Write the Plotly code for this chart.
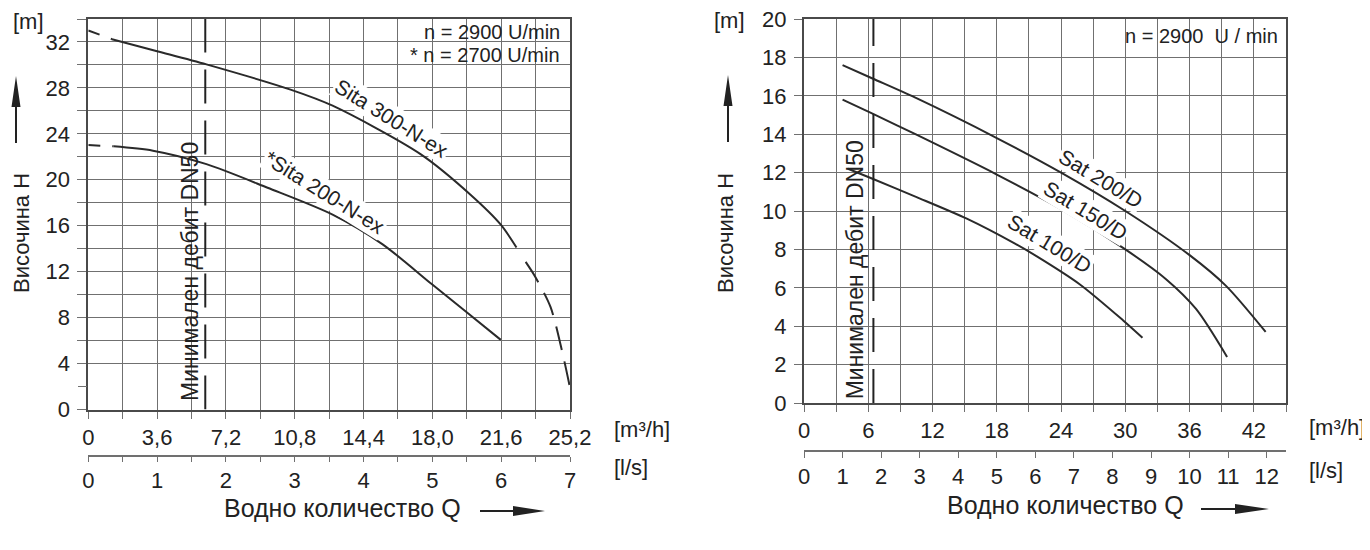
import plotly.graph_objects as go

W, H = 1370, 550
OFF = 8  # page body margin compensation (px)
FONT = "Liberation Sans, Arial, sans-serif"
INK = "#222222"
GRID = "#707070"
AXIS = "#4a4a4a"
CURVE = "#2a2a2a"

# ---------------- left chart: Sita pumps (Q [m3/h], H [m]) ----------------
sita300_q = [1.24, 3.6, 6.18, 10.58, 12.78, 17.38, 19.98, 21.58, 22.4]
sita300_h = [32.24, 31.2, 30.05, 27.85, 26.45, 22.24, 18.73, 16.1, 14.1]
sita300_start_q = [0.0, 1.24]
sita300_start_h = [33.0, 32.24]
sita300_end_q = [22.88, 23.38, 24.18, 24.78, 25.2]
sita300_end_h = [12.85, 11.56, 8.93, 5.12, 1.9]

sita200_q = [1.32, 3.38, 6.18, 9.38, 12.78, 15.38, 17.98, 19.78, 21.58]
sita200_h = [22.91, 22.53, 21.36, 19.31, 16.97, 14.4, 10.9, 8.49, 6.06]
sita200_start_q = [0.0, 1.32]
sita200_start_h = [23.03, 22.91]

left_min_flow = 6.12
left_q_ticks = [0, 3.6, 7.2, 10.8, 14.4, 18.0, 21.6, 25.2]
left_q_labels = ["0", "3,6", "7,2", "10,8", "14,4", "18,0", "21,6", "25,2"]
left_ls_ticks = [0, 1, 2, 3, 4, 5, 6, 7]
left_h_ticks = [0, 4, 8, 12, 16, 20, 24, 28, 32]
left_h_grid = [6, 10, 14, 18, 22, 26, 30, 34]
left_h_stub = [2]

# ---------------- right chart: Sat pumps ----------------
sat200_q = [3.6, 6.4, 10.4, 18.0, 24.0, 30.0, 36.0, 39.4, 43.1]
sat200_h = [17.6, 16.9, 15.9, 13.8, 12.0, 10.0, 7.7, 6.1, 3.7]
sat150_q = [3.6, 6.4, 10.4, 18.0, 24.0, 30.0, 33.8, 36.6, 39.5]
sat150_h = [15.8, 15.07, 14.0, 11.9, 10.1, 8.0, 6.45, 4.9, 2.4]
sat100_q = [4.1, 6.4, 10.4, 15.2, 19.7, 21.7, 25.7, 29.8, 31.6]
sat100_h = [12.2, 11.68, 10.75, 9.6, 8.3, 7.65, 6.2, 4.3, 3.4]

right_min_flow = 6.48
right_q_ticks = [0, 6, 12, 18, 24, 30, 36, 42]
right_q_labels = ["0", "6", "12", "18", "24", "30", "36", "42"]
right_ls_ticks = list(range(0, 13))
right_h_ticks = list(range(0, 21, 2))


def fx(px):
    return (px - OFF) / W


def fy(py):
    return 1 - (py - OFF) / H


fig = go.Figure()


def curve(q, h, xa, ya, dash="solid"):
    fig.add_trace(go.Scatter(
        x=q, y=h, xaxis=xa, yaxis=ya, mode="lines",
        line=dict(color=CURVE, width=2, shape="spline", smoothing=0.8, dash=dash),
        hoverinfo="skip", showlegend=False))


curve(sita300_q, sita300_h, "x", "y")
curve(sita300_start_q, sita300_start_h, "x", "y", "12px,12px")
curve(sita300_end_q, sita300_end_h, "x", "y", "24px,12px")
curve(sita200_q, sita200_h, "x", "y")
curve(sita200_start_q, sita200_start_h, "x", "y", "12px,12px")
fig.add_trace(go.Scatter(x=[left_min_flow, left_min_flow], y=[0, left_h_grid[-1]],
                         xaxis="x", yaxis="y", mode="lines",
                         line=dict(color=INK, width=2, dash="34px,17px"),
                         hoverinfo="skip", showlegend=False))
curve(sat200_q, sat200_h, "x3", "y3")
curve(sat150_q, sat150_h, "x3", "y3")
curve(sat100_q, sat100_h, "x3", "y3")
fig.add_trace(go.Scatter(x=[right_min_flow, right_min_flow], y=[0, right_h_ticks[-1]],
                         xaxis="x3", yaxis="y3", mode="lines",
                         line=dict(color=INK, width=2, dash="34px,17px"),
                         hoverinfo="skip", showlegend=False))

# phantom traces so overlay axes are drawn
fig.add_trace(go.Scatter(x=left_ls_ticks, y=[None] * len(left_ls_ticks), xaxis="x2", yaxis="y",
                         mode="markers", hoverinfo="skip", showlegend=False))
fig.add_trace(go.Scatter(x=right_ls_ticks, y=[None] * len(right_ls_ticks), xaxis="x4", yaxis="y3",
                         mode="markers", hoverinfo="skip", showlegend=False))
fig.add_trace(go.Scatter(x=[None], y=left_h_stub, xaxis="x", yaxis="y5",
                         mode="markers", hoverinfo="skip", showlegend=False))

tickfont = dict(family=FONT, size=22, color=INK)

L_X = [fx(88.3), fx(570)]
L_Y = [fy(409.5), fy(19)]
R_X = [fx(804), fx(1286)]
R_Y = [fy(403), fy(19)]

common_axis = dict(showline=True, linecolor=AXIS, linewidth=2, mirror=True, zeroline=False,
                   gridcolor=GRID, gridwidth=1.3, tickfont=tickfont, tickcolor=GRID,
                   ticks="outside", fixedrange=True, automargin=False,
                   ticklabeloverflow="allow")

fig.update_layout(
    template="none",
    width=W, height=H, margin=dict(l=0, r=0, t=0, b=0, pad=0, autoexpand=False),
    paper_bgcolor="white", plot_bgcolor="white", showlegend=False,
    font=dict(family=FONT, color=INK),
    xaxis=dict(common_axis, domain=L_X, anchor="y", range=[0, left_q_ticks[-1]],
               tickmode="array", tickvals=left_q_ticks, ticktext=left_q_labels, ticklen=7,
               tickwidth=1.3, showgrid=True,
               minor=dict(dtick=1.8, tick0=0, showgrid=True, gridcolor=GRID, gridwidth=1.3,
                          ticks="outside", ticklen=7, tickcolor=GRID)),
    xaxis2=dict(overlaying="x", anchor="free", position=fy(456), side="bottom",
                range=[0, left_ls_ticks[-1]], tickmode="array", tickvals=left_ls_ticks,
                showline=True, linecolor=GRID, linewidth=2, ticks="outside", ticklen=5,
                tickcolor=GRID, tickfont=tickfont, showgrid=False, zeroline=False,
                minor=dict(dtick=0.5, ticks="outside", ticklen=5, tickcolor=GRID),
                fixedrange=True, automargin=False, ticklabeloverflow="allow"),
    yaxis=dict(common_axis, domain=L_Y, anchor="x", range=[0, 34],
               tickmode="array", tickvals=left_h_ticks, ticklen=9, tickwidth=1.3,
               ticklabelstandoff=3,
               minor=dict(tickmode="array", tickvals=left_h_grid, showgrid=True, gridcolor=GRID,
                          gridwidth=1.3, ticks="outside", ticklen=9, tickcolor=GRID)),
    yaxis5=dict(overlaying="y", anchor="x", side="left", range=[0, 34], tickmode="array",
                tickvals=left_h_stub, ticks="outside", ticklen=9, tickcolor=GRID, tickwidth=1.3,
                showticklabels=False, showgrid=False, showline=False, zeroline=False,
                fixedrange=True, automargin=False),
    xaxis3=dict(common_axis, domain=R_X, anchor="y3", range=[0, 45],
                tickmode="array", tickvals=right_q_ticks, ticktext=right_q_labels, ticklen=7,
                tickwidth=1.3, showgrid=True,
                minor=dict(dtick=3, tick0=0, showgrid=True, gridcolor=GRID, gridwidth=1.3,
                           ticks="outside", ticklen=7, tickcolor=GRID)),
    xaxis4=dict(overlaying="x3", anchor="free", position=fy(451), side="bottom",
                range=[0, 12.5], tickmode="array", tickvals=right_ls_ticks,
                showline=True, linecolor=GRID, linewidth=2, ticks="outside", ticklen=6,
                tickcolor=GRID, tickfont=tickfont, showgrid=False, zeroline=False,
                fixedrange=True, automargin=False, ticklabeloverflow="allow"),
    yaxis3=dict(common_axis, domain=R_Y, anchor="x3", range=[0, 20],
                tickmode="array", tickvals=right_h_ticks, ticklen=8, tickwidth=1.3,
                ticklabelstandoff=3),
)

ann = []


def txt(text, x, y, size=22, xanchor="center", **kw):
    d = dict(text=text, x=x, y=y, xref="paper", yref="paper", showarrow=False,
             xanchor=xanchor, yanchor="middle",
             font=dict(family=FONT, size=size, color=INK))
    d.update(kw)
    ann.append(d)


txt("[m]", fx(11), fy(21), xanchor="left")
txt("[m]", fx(729), fy(20))
txt("[m³/h]", fx(612), fy(430), xanchor="left")
txt("[l/s]", fx(612), fy(467), xanchor="left")
txt("[m³/h]", fx(1307), fy(427), xanchor="left")
txt("[l/s]", fx(1307), fy(470), xanchor="left")
txt("Височина H", fx(21), fy(233), textangle=-90)
txt("Височина H", fx(725), fy(233), textangle=-90)
txt("Водно количество Q", fx(342), fy(508), size=25)
txt("Водно количество Q", fx(1065), fy(505), size=25)
txt("n = 2900 U/min", fx(562), fy(32), size=20, xanchor="right")
txt("* n = 2700 U/min", fx(562), fy(55), size=20, xanchor="right")
txt("n = 2900\u00a0 U / min", fx(1280), fy(36), size=20, xanchor="right")


def clabel(text, x, y, xr, yr, angle, size=21):
    ann.append(dict(text=text, x=x, y=y, xref=xr, yref=yr, showarrow=False, textangle=angle,
                    xanchor="center", yanchor="middle", bgcolor="white", borderpad=1,
                    font=dict(family=FONT, size=size, color=INK)))


clabel("Sita 300-N-ex", 15.88, 25.31, "x", "y", 32)
clabel("*Sita 200-N-ex", 12.38, 18.87, "x", "y", 32)
clabel("Sat 200/D", 27.7, 11.68, "x3", "y3", 31)
clabel("Sat 150/D", 26.3, 10.03, "x3", "y3", 31)
clabel("Sat 100/D", 22.9, 8.3, "x3", "y3", 31)

ann.append(dict(text="Минимален дебит DN50", x=left_min_flow, y=12, xref="x", yref="y",
                showarrow=False, textangle=-90, xshift=-16, xanchor="center", yanchor="middle",
                font=dict(family=FONT, size=23, color=INK)))
ann.append(dict(text="Минимален дебит DN50", x=right_min_flow, y=6.93, xref="x3", yref="y3",
                showarrow=False, textangle=-90, xshift=-18, xanchor="center", yanchor="middle",
                font=dict(family=FONT, size=23, color=INK)))

fig.update_layout(annotations=ann)

shapes = [
    dict(type="rect", xref="paper", yref="paper", x0=fx(405), x1=fx(569), y0=fy(63.5), y1=fy(20),
         fillcolor="white", line=dict(width=0), layer="between"),
    dict(type="rect", xref="paper", yref="paper", x0=fx(1118), x1=fx(1285), y0=fy(56), y1=fy(20),
         fillcolor="white", line=dict(width=0), layer="between"),
]


def arrow(x_px, y_px, path):
    shapes.append(dict(type="path", xref="paper", yref="paper", xsizemode="pixel",
                       ysizemode="pixel", xanchor=fx(x_px), yanchor=fy(y_px), path=path,
                       fillcolor=INK, line=dict(width=0)))


up = "M0,0 L4.5,-31 L1,-31 L1,-67 L-1,-67 L-1,-31 L-4.5,-31 Z"
arrow(16, 76, up)
arrow(728, 75, up)
arrow(545, 511, "M0,0 L-32,5 L-32,1 L-65,1 L-65,-1 L-32,-1 L-32,-5 Z")
arrow(1269, 509, "M0,0 L-34,5 L-34,1 L-68,1 L-68,-1 L-34,-1 L-34,-5 Z")

fig.update_layout(shapes=shapes)

fig.write_html("out.html")
